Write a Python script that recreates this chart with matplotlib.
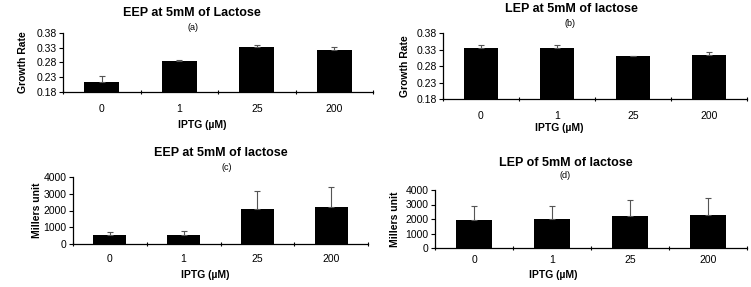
import numpy as np
import matplotlib
matplotlib.use("Agg")
from matplotlib import pyplot as plt
from matplotlib.ticker import FixedLocator

plt.rcParams['font.family'] = ['Liberation Sans', 'DejaVu Sans']

# data
iptg = ["0", "1", "25", "200"]

eep_growth = [0.215, 0.284, 0.333, 0.322]
eep_growth_err = [0.020, 0.005, 0.005, 0.012]

lep_growth = [0.336, 0.334, 0.311, 0.313]
lep_growth_err = [0.007, 0.010, 0.0, 0.010]

eep_miller = [550, 550, 2070, 2200]
eep_miller_err = [190, 240, 1080, 1180]

lep_miller = [1930, 1970, 2230, 2300]
lep_miller_err = [950, 900, 1070, 1150]

growth_ticks = [0.18, 0.23, 0.28, 0.33, 0.38]
miller_ticks = [0, 1000, 2000, 3000, 4000]

W, H = 751, 287
fig = plt.figure(figsize=(W / 100, H / 100), dpi=100)


def px_axes(left, right, top, bottom):
    return fig.add_axes([left / W, 1 - bottom / H, (right - left) / W, (bottom - top) / H])


def panel(ax, vals, errs, yticks, ylabel, fmt, xpad, ylab_x):
    x = np.arange(len(iptg))
    lower = np.zeros(len(errs))
    ax.bar(x, vals, width=0.45, color="black", zorder=2)
    ax.errorbar(x, vals, yerr=[lower, errs], fmt="none", ecolor="#555555",
                elinewidth=0.8, capsize=2, capthick=0.8, zorder=3)
    ax.set_xlim(-0.5, len(iptg) - 0.5)
    ax.set_ylim(yticks[0], yticks[-1])
    ax.set_yticks(yticks)
    ax.set_yticklabels([fmt.format(t) for t in yticks], fontsize=7.5)
    ax.set_xticks(x)
    ax.set_xticklabels(iptg, fontsize=7.5)
    ax.xaxis.set_minor_locator(FixedLocator(np.arange(-0.5, len(iptg), 1.0)))
    ax.tick_params(axis="x", which="major", length=0, pad=xpad)
    ax.tick_params(axis="x", which="minor", length=3, width=0.8, direction="inout")
    ax.tick_params(axis="y", length=3, width=0.8, pad=1.5)
    for s in ("top", "right"):
        ax.spines[s].set_visible(False)
    for s in ("left", "bottom"):
        ax.spines[s].set_linewidth(0.9)
    ax.set_ylabel(ylabel, fontsize=7.5, fontweight="bold")
    # put the y label at a fixed pixel column (right edge of the rotated text)
    bb = ax.get_position()
    ax.yaxis.set_label_coords((ylab_x / W - bb.x0) / bb.width, 0.5)


ax_a = px_axes(63, 373, 33, 92)
panel(ax_a, eep_growth, eep_growth_err, growth_ticks, "Growth Rate", "{:.2f}", 8.5, 28)
ax_b = px_axes(443, 747, 33, 99)
panel(ax_b, lep_growth, lep_growth_err, growth_ticks, "Growth Rate", "{:.2f}", 8.5, 410)
ax_c = px_axes(73, 368, 177, 244)
panel(ax_c, eep_miller, eep_miller_err, miller_ticks, "Millers unit", "{:d}", 7.5, 42)
ax_d = px_axes(435, 747, 190, 248)
panel(ax_d, lep_miller, lep_miller_err, miller_ticks, "Millers unit", "{:d}", 5, 400)

# titles, sub-labels and x labels placed in pixels
texts = [
    ("EEP at 5mM of Lactose", 192, 13, 9, "bold"),
    ("(a)", 193, 28, 6.5, "normal"),
    ("IPTG (\u00b5M)", 202, 125, 7.5, "bold"),
    ("LEP at 5mM of lactose", 571, 9, 9, "bold"),
    ("(b)", 570, 23, 6.5, "normal"),
    ("IPTG (\u00b5M)", 559, 128, 7.5, "bold"),
    ("EEP at 5mM of lactose", 221, 153, 9, "bold"),
    ("(c)", 227, 168, 6.5, "normal"),
    ("IPTG (\u00b5M)", 205, 275, 7.5, "bold"),
    ("LEP of 5mM of lactose", 566, 163, 9, "bold"),
    ("(d)", 565, 176, 6.5, "normal"),
    ("IPTG (\u00b5M)", 553, 275, 7.5, "bold"),
]
for txt, x, y, size, weight in texts:
    fig.text(x / W, 1 - y / H, txt, ha="center", va="center", fontsize=size, fontweight=weight)

fig.savefig("out.png", dpi=100)
